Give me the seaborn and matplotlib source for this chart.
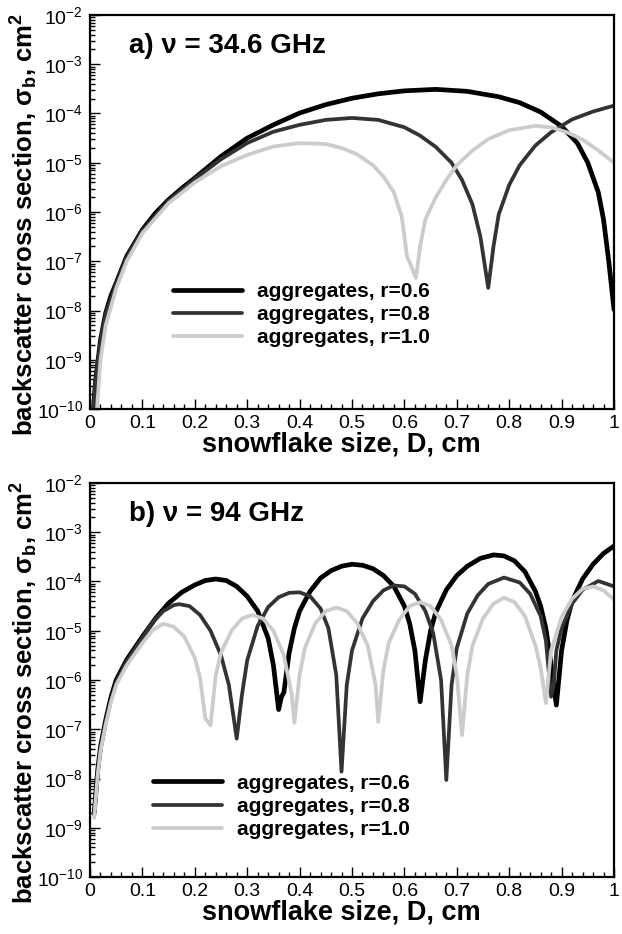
import numpy as np
import pandas as pd
import seaborn as sns
import matplotlib
matplotlib.use("Agg")
import matplotlib.pyplot as plt
from matplotlib.ticker import LogLocator, MultipleLocator, FuncFormatter, NullFormatter

# ---- data: D (cm) and log10(sigma_b, cm^2) ----
# a) 34.6 GHz
a_d_r06 = [0.006, 0.01, 0.02, 0.03, 0.04, 0.05, 0.07, 0.1, 0.125, 0.15, 0.175, 0.2, 0.25, 0.3, 0.35, 0.4,
           0.45, 0.5, 0.55, 0.6, 0.66, 0.72, 0.78, 0.82, 0.86, 0.9, 0.93, 0.95, 0.97, 0.98, 0.99, 1.0]
a_lg_r06 = [-10.1, -9.5, -8.6, -8.05, -7.7, -7.44, -6.9, -6.36, -6.02, -5.75, -5.52, -5.31, -4.87, -4.5, -4.23, -3.99,
            -3.82, -3.69, -3.6, -3.54, -3.51, -3.55, -3.66, -3.78, -3.97, -4.26, -4.6, -5.0, -5.6, -6.15, -7.0, -7.98]

a_d_r08 = [0.006, 0.01, 0.02, 0.03, 0.05, 0.07, 0.1, 0.15, 0.2, 0.25, 0.3, 0.35, 0.4, 0.45, 0.5, 0.55,
           0.6, 0.63, 0.66, 0.69, 0.71, 0.73, 0.745, 0.76, 0.77, 0.78, 0.8, 0.82, 0.85, 0.88, 0.92, 0.96, 1.0]
a_lg_r08 = [-10.15, -9.5, -8.62, -8.08, -7.46, -6.92, -6.38, -5.77, -5.33, -4.93, -4.6, -4.37, -4.23, -4.13, -4.09, -4.13,
            -4.28, -4.45, -4.68, -5.0, -5.35, -5.85, -6.5, -7.54, -6.7, -6.05, -5.45, -5.05, -4.65, -4.38, -4.12, -3.96, -3.84]

a_d_r10 = [0.012, 0.02, 0.03, 0.05, 0.07, 0.1, 0.15, 0.2, 0.25, 0.3, 0.35, 0.4, 0.45, 0.48, 0.51, 0.54,
           0.56, 0.58, 0.595, 0.605, 0.615, 0.622, 0.63, 0.64, 0.66, 0.68, 0.7, 0.73, 0.76, 0.8, 0.85, 0.88,
           0.91, 0.94, 0.97, 1.0]
a_lg_r10 = [-10.2, -9.0, -8.3, -7.55, -7.0, -6.43, -5.82, -5.4, -5.07, -4.84, -4.67, -4.6, -4.62, -4.7, -4.83, -5.05,
            -5.28, -5.6, -6.1, -6.9, -7.15, -7.34, -6.7, -6.15, -5.7, -5.35, -5.05, -4.75, -4.52, -4.34, -4.25, -4.28,
            -4.38, -4.53, -4.75, -5.0]

# b) 94 GHz
b_d_r06 = [0.008, 0.015, 0.02, 0.03, 0.04, 0.05, 0.07, 0.1, 0.125, 0.15, 0.175, 0.2, 0.22, 0.24, 0.26, 0.28,
           0.3, 0.32, 0.34, 0.35, 0.36, 0.365, 0.37, 0.38, 0.39, 0.4, 0.42, 0.44, 0.46, 0.48, 0.5, 0.52,
           0.54, 0.56, 0.58, 0.6, 0.61, 0.62, 0.63, 0.64, 0.65, 0.66, 0.68, 0.7, 0.72, 0.745, 0.77, 0.79,
           0.81, 0.83, 0.85, 0.86, 0.87, 0.88, 0.89, 0.9, 0.91, 0.92, 0.94, 0.96, 0.98, 1.0]
b_lg_r06 = [-8.7, -7.8, -7.36, -6.81, -6.35, -6.0, -5.59, -5.12, -4.75, -4.44, -4.22, -4.07, -3.98, -3.95, -3.98, -4.1,
            -4.3, -4.6, -5.15, -5.7, -6.6, -6.35, -6.25, -5.45, -4.95, -4.6, -4.2, -3.93, -3.78, -3.69, -3.65, -3.67,
            -3.74, -3.88, -4.1, -4.5, -4.85, -5.4, -6.44, -5.6, -5.0, -4.62, -4.17, -3.88, -3.69, -3.53, -3.46, -3.48,
            -3.58, -3.8, -4.2, -4.5, -4.95, -5.7, -6.51, -5.4, -4.8, -4.4, -3.95, -3.65, -3.43, -3.28]

b_d_r08 = [0.008, 0.015, 0.02, 0.03, 0.04, 0.05, 0.07, 0.1, 0.12, 0.14, 0.16, 0.17, 0.19, 0.21, 0.23, 0.25,
           0.265, 0.28, 0.29, 0.3, 0.32, 0.34, 0.36, 0.38, 0.4, 0.42, 0.44, 0.455, 0.47, 0.48, 0.49, 0.5,
           0.52, 0.54, 0.56, 0.58, 0.6, 0.62, 0.64, 0.655, 0.67, 0.68, 0.69, 0.7, 0.72, 0.74, 0.76, 0.79,
           0.82, 0.84, 0.86, 0.87, 0.88, 0.885, 0.89, 0.9, 0.92, 0.94, 0.97, 1.0]
b_lg_r08 = [-8.75, -7.85, -7.4, -6.85, -6.4, -6.05, -5.62, -5.15, -4.82, -4.6, -4.48, -4.46, -4.5, -4.68, -5.0, -5.5,
            -6.1, -7.19, -6.3, -5.6, -4.9, -4.52, -4.32, -4.23, -4.22, -4.3, -4.55, -4.95, -5.9, -7.86, -6.1, -5.4,
            -4.75, -4.4, -4.18, -4.08, -4.1, -4.25, -4.6, -5.05, -6.0, -8.03, -6.1, -5.35, -4.65, -4.28, -4.05, -3.92,
            -4.02, -4.25, -4.7, -5.2, -6.34, -6.1, -5.4, -4.95, -4.45, -4.17, -3.99, -4.1]

b_d_r10 = [0.008, 0.015, 0.02, 0.03, 0.04, 0.05, 0.07, 0.1, 0.12, 0.14, 0.16, 0.18, 0.2, 0.21, 0.22, 0.23,
           0.24, 0.25, 0.27, 0.29, 0.31, 0.33, 0.35, 0.37, 0.385, 0.39, 0.4, 0.41, 0.43, 0.45, 0.47, 0.49,
           0.51, 0.53, 0.545, 0.55, 0.56, 0.57, 0.59, 0.61, 0.63, 0.65, 0.67, 0.69, 0.7, 0.71, 0.72, 0.73,
           0.75, 0.77, 0.79, 0.81, 0.83, 0.85, 0.86, 0.87, 0.88, 0.9, 0.92, 0.94, 0.96, 0.98, 1.0]
b_lg_r10 = [-8.8, -7.9, -7.45, -6.9, -6.45, -6.1, -5.7, -5.25, -4.98, -4.86, -4.92, -5.12, -5.55, -5.95, -6.78, -6.92,
            -5.9, -5.45, -5.0, -4.75, -4.68, -4.75, -5.0, -5.5, -6.3, -6.87, -5.9, -5.35, -4.85, -4.6, -4.53, -4.6,
            -4.85, -5.3, -6.1, -6.85, -5.8, -5.25, -4.78, -4.5, -4.42, -4.5, -4.78, -5.3, -5.9, -7.12, -5.9, -5.3,
            -4.75, -4.45, -4.33, -4.42, -4.7, -5.3, -5.75, -6.47, -5.4, -4.72, -4.35, -4.15, -4.1, -4.18, -4.37]

labels = ["aggregates, r=0.6", "aggregates, r=0.8", "aggregates, r=1.0"]
colors = ["#000000", "#333333", "#cccccc"]
widths = [3.4, 2.7, 2.7]
titles = ["a) \u03bd = 34.6 GHz", "b) \u03bd = 94 GHz"]

panels = [
    [(a_d_r06, a_lg_r06), (a_d_r08, a_lg_r08), (a_d_r10, a_lg_r10)],
    [(b_d_r06, b_lg_r06), (b_d_r08, b_lg_r08), (b_d_r10, b_lg_r10)],
]

sns.set_style("white")
plt.rcParams["font.family"] = ["Liberation Sans", "DejaVu Sans"]
plt.rcParams["mathtext.default"] = "regular"
plt.rcParams["text.color"] = "black"
plt.rcParams["axes.labelcolor"] = "black"
plt.rcParams["xtick.color"] = "black"
plt.rcParams["ytick.color"] = "black"

fig = plt.figure(figsize=(6.22, 9.34), dpi=100)
W, H = 622, 934
boxes = [(90, 15, 614, 409), (90, 483, 614, 877)]
leg_pos = [(0.158, 0.322), (0.12, 0.262)]

for i, (x0, y0, x1, y1) in enumerate(boxes):
    ax = fig.add_axes([x0 / W, 1 - y1 / H, (x1 - x0) / W, (y1 - y0) / H])
    for (d, lg), lab, c, lw in zip(panels[i], labels, colors, widths):
        df = pd.DataFrame({"D": d, "sigma": 10.0 ** np.array(lg)})
        sns.lineplot(data=df, x="D", y="sigma", ax=ax, color=c, linewidth=lw,
                     label=lab, sort=False, estimator=None)
    ax.set_yscale("log")
    ax.set_xlim(0, 1)
    ax.set_ylim(1e-10, 1e-2)
    ax.xaxis.set_major_locator(MultipleLocator(0.1))
    ax.xaxis.set_minor_locator(MultipleLocator(0.02))
    ax.xaxis.set_major_formatter(FuncFormatter(lambda v, p: "%g" % round(v, 2)))
    ax.yaxis.set_major_locator(LogLocator(base=10, numticks=20))
    ax.yaxis.set_minor_locator(LogLocator(base=10, subs=np.arange(2, 10), numticks=100))
    ax.yaxis.set_minor_formatter(NullFormatter())
    ax.tick_params(which="both", direction="in", top=False, right=False,
                   left=True, bottom=True, width=1.0, color="black", labelcolor="black")
    ax.tick_params(which="major", length=7, labelsize=14)
    ax.tick_params(which="minor", length=3.5)
    ax.tick_params(axis="x", which="major", pad=4)
    ax.tick_params(axis="y", which="major", pad=5)
    for s in ax.spines.values():
        s.set_visible(True)
        s.set_linewidth(1.6)
        s.set_color("black")
    ax.set_xlabel("snowflake size, D, cm", fontsize=19.5, fontweight="bold", va="center")
    ax.xaxis.set_label_coords(0.48, -0.09)
    ax.set_ylabel("backscatter cross section, \u03c3$_b$, cm$^2$", fontsize=18.5,
                  fontweight="bold", va="center")
    ax.yaxis.set_label_coords(-0.126, 0.468)
    ax.text(0.074, 0.922, titles[i], transform=ax.transAxes, fontsize=20,
            fontweight="bold", va="center", ha="left")
    ax.legend(loc="upper left", bbox_to_anchor=leg_pos[i], frameon=False,
              prop={"size": 15, "weight": "bold"}, handlelength=3.3,
              handletextpad=0.75, labelspacing=0.2, borderpad=0, borderaxespad=0)

fig.savefig("out.png", dpi=100)
